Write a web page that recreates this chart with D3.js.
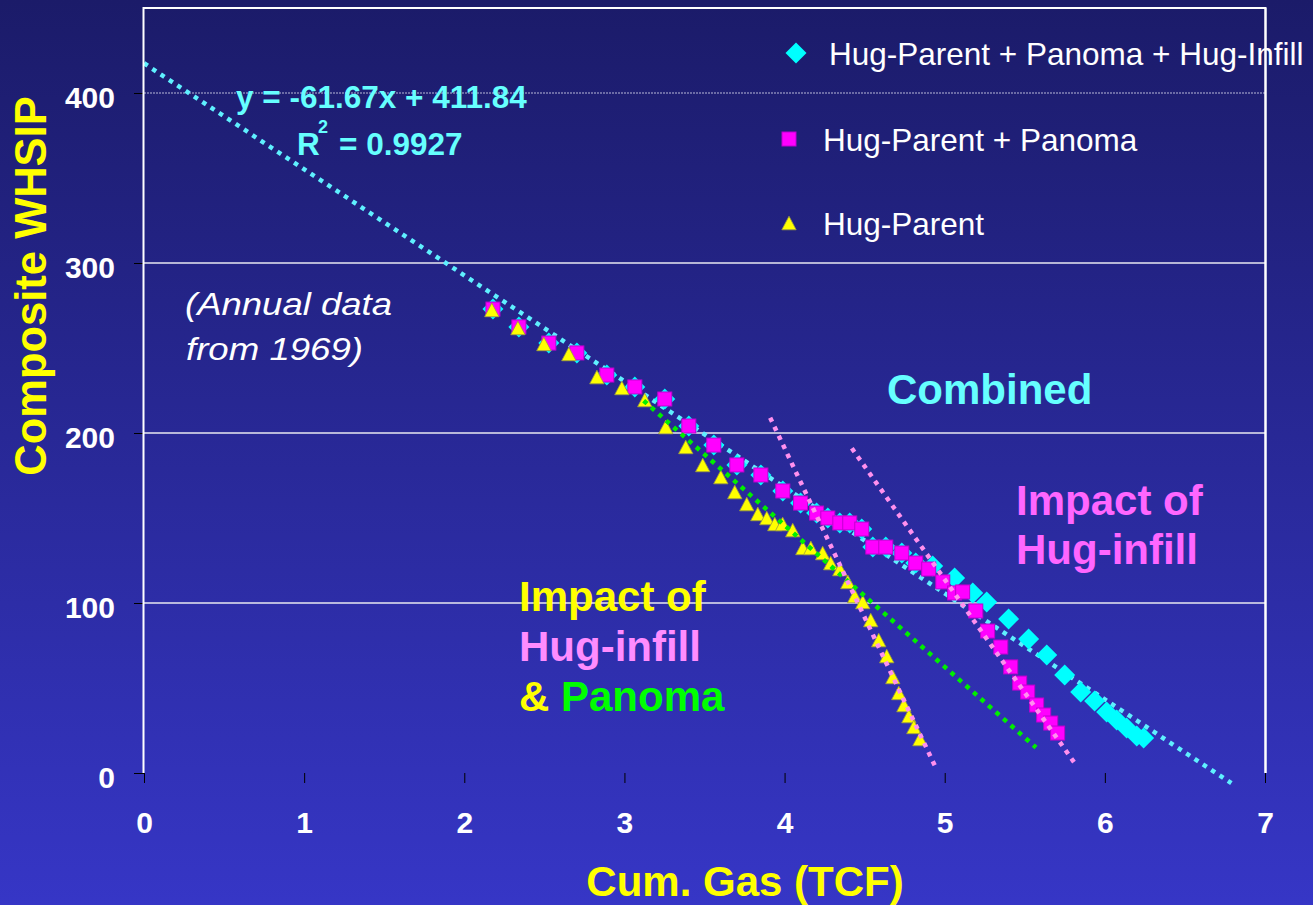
<!DOCTYPE html>
<html><head><meta charset="utf-8">
<script src="https://cdn.jsdelivr.net/npm/d3@7/dist/d3.min.js"></script>
<style>html,body{margin:0;padding:0;overflow:hidden;background:#2a2a99}</style>
</head><body><svg id="chart" width="1313" height="905"></svg>
<script>
// ---------- DATA ----------
const parentX = [2.172,2.335,2.497,2.653,2.828,2.984,3.127,3.258,3.383,3.489,3.602,3.689,3.764,3.833,3.889,3.939,3.988,4.051,4.114,4.164,4.238,4.288,4.345,4.395,4.438,4.488,4.538,4.588,4.638,4.676,4.713,4.745,4.776,4.807,4.845];
const parentY = [272.4,261.8,252.4,246.5,232.9,226.5,219.4,203.5,191.8,181.2,174.1,165.3,158.2,152.4,150.0,146.5,146.5,142.9,132.4,132.4,129.4,123.5,120.0,112.4,104.1,100.6,90.0,78.2,68.8,56.5,47.1,40.0,33.5,27.1,20.0];

const panomaX = [2.179,2.341,2.528,2.703,2.890,3.065,3.252,3.402,3.558,3.702,3.852,3.989,4.100,4.200,4.270,4.345,4.407,4.482,4.551,4.632,4.732,4.819,4.900,4.988,5.062,5.112,5.194,5.268,5.350,5.412,5.468,5.518,5.574,5.618,5.662,5.705];
const panomaY = [272.9,262.4,252.9,247.1,234.1,227.1,220.0,204.1,192.9,181.2,175.3,165.9,158.8,152.9,150.0,147.1,147.1,143.5,132.9,132.9,129.4,123.5,120.0,112.4,105.9,106.5,95.3,83.5,74.1,62.4,52.9,47.6,40.0,34.1,29.4,23.5];

const combinedX = [2.179,2.341,2.528,2.703,2.890,3.065,3.252,3.402,3.558,3.702,3.852,3.989,4.100,4.200,4.270,4.345,4.407,4.482,4.551,4.632,4.732,4.819,4.925,5.062,5.175,5.262,5.399,5.524,5.637,5.749,5.849,5.936,6.011,6.074,6.136,6.199,6.242];
const combinedY = [272.9,262.4,252.9,247.1,234.1,227.1,220.0,204.1,192.9,181.2,175.3,165.9,158.8,152.9,150.0,147.1,147.1,143.5,132.9,132.9,129.4,123.5,121.8,114.7,105.9,100.6,90.6,78.8,69.4,57.6,47.6,42.4,35.9,31.2,26.5,21.8,20.6];

// trend lines as [x, y] end points
const trendCombined = [[0, 417.5], [6.79, -6]];
const trendPanoma   = [[3.12, 219], [5.57, 15]];
const trendInfillA  = [[3.91, 209], [4.94, 4]];
const trendInfillB  = [[4.42, 191], [5.81, 6]];

const xTicks = [0,1,2,3,4,5,6,7];
const yTicks = [0,100,200,300,400];
const legendLabels = ["Hug-Parent + Panoma + Hug-Infill", "Hug-Parent + Panoma", "Hug-Parent"];

// ---------- DRAW ----------
const svg = d3.select("#chart");
const W = 1313, H = 905;
const FONT = "'Liberation Sans', Arial, Helvetica, sans-serif";

const defs = svg.append("defs");
const grad = defs.append("linearGradient").attr("id","bg").attr("x1",0).attr("y1",0).attr("x2",0).attr("y2",1);
grad.append("stop").attr("offset","0%").attr("stop-color","#1b1b69");
grad.append("stop").attr("offset","100%").attr("stop-color","#3636c6");
svg.append("rect").attr("width",W).attr("height",H).attr("fill","url(#bg)");

const x = d3.scaleLinear().domain([0,7]).range([144,1265]);
const y = d3.scaleLinear().domain([0,450]).range([773,8]);

// gridlines
svg.append("g").selectAll("line").data(yTicks.filter(d => d > 0)).join("line")
  .attr("x1", x(0)).attr("x2", x(7))
  .attr("y1", d => y(d)).attr("y2", d => y(d))
  .attr("stroke", d => d === 400 ? "#b8b8d8" : "#e8e8f0")
  .attr("stroke-width", d => d === 400 ? 1 : 1.4)
  .attr("stroke-dasharray", d => d === 400 ? "2,1" : null);

// axes
const xAxis = svg.append("g").attr("transform", `translate(0,${y(0)})`)
  .call(d3.axisBottom(x).tickValues(xTicks).tickSize(10).tickPadding(29).tickFormat(d3.format("d")));
const yAxis = svg.append("g").attr("transform", `translate(${x(0)},0)`)
  .call(d3.axisLeft(y).tickValues(yTicks).tickSize(10).tickPadding(19).tickFormat(d3.format("d")));
[xAxis, yAxis].forEach(g => {
  g.select(".domain").remove();
  g.selectAll(".tick line").attr("stroke", "#000").attr("stroke-width", 1);
  g.selectAll(".tick text").attr("fill", "#fff").style("font-family", FONT)
    .style("font-size", "30px").style("font-weight", "bold");
});
yAxis.selectAll(".tick text").attr("dy", "0.47em");

const line = d3.line().x(d => x(d[0])).y(d => y(d[1]));
const dotted = (sel, color) => sel.attr("fill", "none").attr("stroke", color)
  .attr("stroke-width", 4.5).attr("stroke-dasharray", "4.5,5.5");

// combined trend line (drawn beneath the markers)
dotted(svg.append("path").attr("d", line(trendCombined)), "#5ff0ff");

// markers
const diamond = "M0,-10.5L10.5,0L0,10.5L-10.5,0Z";
const tri = "M0,-6.8L7.2,6.8L-7.2,6.8Z";

svg.append("g").selectAll("path").data(combinedX.map((v,i) => [v, combinedY[i]])).join("path")
  .attr("d", diamond).attr("transform", d => `translate(${x(d[0])},${y(d[1])})`)
  .attr("fill", "#00ffff");

svg.append("g").selectAll("rect").data(panomaX.map((v,i) => [v, panomaY[i]])).join("rect")
  .attr("x", d => x(d[0]) - 7).attr("y", d => y(d[1]) - 7)
  .attr("width", 14).attr("height", 14)
  .attr("fill", "#ff00ff").attr("stroke", "#c000d0").attr("stroke-width", 1);

svg.append("g").selectAll("path").data(parentX.map((v,i) => [v, parentY[i]])).join("path")
  .attr("d", tri).attr("transform", d => `translate(${x(d[0])},${y(d[1])})`)
  .attr("fill", "#ffff00").attr("stroke", "#9a9a40").attr("stroke-width", 0.8);

// other trend lines (drawn over the markers)
const trends = [
  {pts: trendPanoma, color: "#00ee00"},
  {pts: trendInfillA, color: "#ff90ee"},
  {pts: trendInfillB, color: "#ff90ee"}
];
dotted(svg.append("g").selectAll("path").data(trends).join("path")
  .attr("d", d => line(d.pts)), null).attr("stroke", d => d.color);

// frame
svg.append("path")
  .attr("d", `M${x(0)-0.5},${y(0)}V${y(450)}H${x(7)+0.5}V${y(0)}`)
  .attr("fill", "none").attr("stroke", "#fff").attr("stroke-width", 2);

// legend
const legendRows = [
  {label: legendLabels[0], tx: 829, base: 65, mx: 796, my: 53, shape: "diamond"},
  {label: legendLabels[1], tx: 823, base: 151, mx: 789, my: 139, shape: "square"},
  {label: legendLabels[2], tx: 823, base: 235, mx: 789, my: 223, shape: "tri"}
];
const lg = svg.append("g");
legendRows.forEach(r => {
  if (r.shape === "diamond") lg.append("path").attr("d", diamond).attr("transform", `translate(${r.mx},${r.my})`).attr("fill", "#00ffff");
  if (r.shape === "square") lg.append("rect").attr("x", r.mx-7).attr("y", r.my-7).attr("width", 14).attr("height", 14).attr("fill", "#ff00ff").attr("stroke", "#c000d0");
  if (r.shape === "tri") lg.append("path").attr("d", tri).attr("transform", `translate(${r.mx},${r.my})`).attr("fill", "#ffff00").attr("stroke", "#9a9a40").attr("stroke-width", 0.8);
  lg.append("text").attr("x", r.tx).attr("y", r.base).text(r.label)
    .attr("fill", "#fff").style("font-family", FONT).style("font-size", "31.5px");
});
// right border drawn over the legend text
svg.append("line").attr("x1", x(7)+0.5).attr("x2", x(7)+0.5).attr("y1", y(450)).attr("y2", y(0))
  .attr("stroke", "#fff").attr("stroke-width", 2);

// annotations
function txt(t, px, py, color, size, opts = {}) {
  const e = svg.append("text").attr("x", px).attr("y", py).text(t)
    .attr("fill", color).style("font-family", FONT).style("font-size", size + "px")
    .style("font-weight", opts.weight || "bold").style("font-style", opts.style || "normal");
  if (opts.len) e.attr("textLength", opts.len).attr("lengthAdjust", "spacingAndGlyphs");
  return e;
}
txt("y = -61.67x + 411.84", 236, 108, "#66ffff", 31.5);
txt("R", 297, 155, "#66ffff", 31.5);
txt("2", 318, 133, "#66ffff", 18);
txt("= 0.9927", 339, 155, "#66ffff", 31.5);

txt("(Annual data", 185, 315, "#ffffff", 31, {weight: "normal", style: "italic", len: 207});
txt("from 1969)", 186, 360, "#ffffff", 31, {weight: "normal", style: "italic", len: 177});

txt("Combined", 887, 404, "#66ffff", 42);
txt("Impact of", 1016, 515, "#ff66ff", 42);
txt("Hug-infill", 1016, 564, "#ff66ff", 42);

txt("Impact of", 519, 611, "#ffff00", 42);
txt("Hug-infill", 519, 661, "#ff8cff", 42);
const amp = txt("& ", 519, 711, "#ffff00", 42);
amp.append("tspan").attr("fill", "#00ff00").text("Panoma");

// axis titles
svg.append("text").attr("transform", "translate(46,286) rotate(-90)").attr("text-anchor", "middle")
  .text("Composite WHSIP").attr("fill", "#ffff00").style("font-family", FONT)
  .style("font-size", "43.5px").style("font-weight", "bold");
svg.append("text").attr("x", 745).attr("y", 896).attr("text-anchor", "middle")
  .text("Cum. Gas (TCF)").attr("fill", "#ffff00").style("font-family", FONT)
  .style("font-size", "42px").style("font-weight", "bold");
</script></body></html>
